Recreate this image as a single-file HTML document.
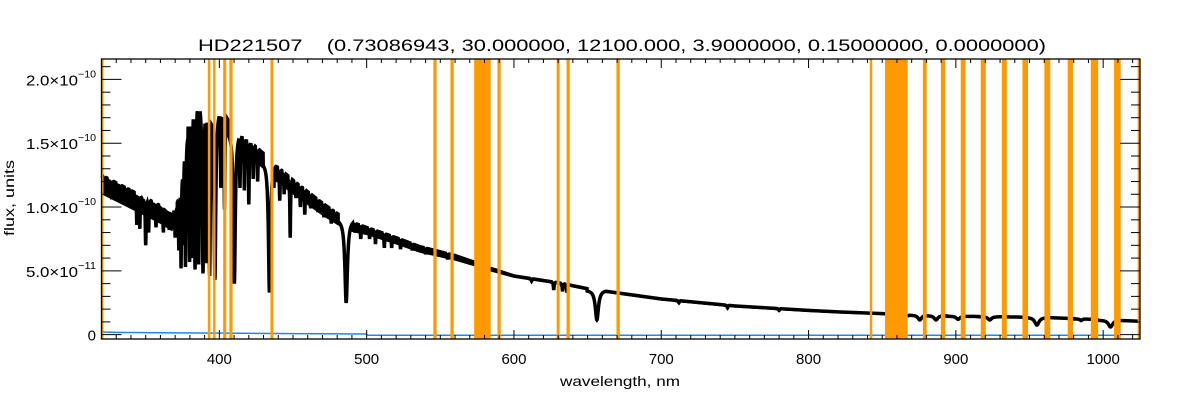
<!DOCTYPE html>
<html><head><meta charset="utf-8">
<style>
html,body{margin:0;padding:0;background:#fff;}
svg{display:block;font-family:"Liberation Sans",sans-serif;}
</style></head>
<body>
<svg id="chart" width="1200" height="400" xmlns="http://www.w3.org/2000/svg">
<rect x="0" y="0" width="1200" height="400" fill="#fff"/>
<text x="198" y="51" font-size="17" textLength="848" lengthAdjust="spacingAndGlyphs" fill="#000">HD221507&#160;&#160;&#160;&#160;(0.73086943, 30.000000, 12100.000, 3.9000000, 0.15000000, 0.0000000)</text>
<g id="plot"></g>
<text x="560" y="386" font-size="14" textLength="120" lengthAdjust="spacingAndGlyphs" fill="#000">wavelength, nm</text>
<text transform="translate(14,236) rotate(-90)" font-size="14" textLength="76" lengthAdjust="spacingAndGlyphs" fill="#000">flux, units</text>
</svg>
<script>
// ---- data (flux in units of 1e-11) ----
const contWl   = [320,330,340,350,360,368,372,376,380,385,390,395,400,405,410,413,420,430,436,440,450,460,470,480,490,500,520,536,560,575,584,600,631,650,700,750,800,821,850,870,900,960,1025];
const contFlux = [12.5,11.9,11.3,10.7,10.1,9.5,10.5,15.0,18.2,18.8,18.5,18.0,17.6,17.0,16.0,15.8,15.2,14.2,13.3,13.1,12.1,11.2,10.3,9.5,8.8,8.4,7.6,6.9,6.2,5.6,5.2,4.6,4.05,3.6,2.8,2.25,1.9,1.78,1.65,1.55,1.45,1.35,1.05];
const noiseWl    = [320,370,380,410,440,480,500,560,600,1025];
const noiseDepth = [1.5,1.4,1.5,1.3,1.2,0.9,0.6,0.4,0.15,0.1];
const lineWl    = [322,325,327,331,333,337,340,344,346,348,350,352,355,357,360,362,364,366,368,370,372.5,374,375.5,377,379.8,381.5,383.5,386,388.9,391,393.4,397,401,403.5,410.2,414,417,420,423,426,434.0,437,441,444,448.1,452,455,458,462,467,471,476,479,486.1,492.2,496,502,506,512,517,523,531,540,555,612,627,633,636,656.3,712,745,780,866,875.5,886.5,901.5,923,955,985,1005];
const lineFlux  = [11.0,11.2,10.6,10.8,10.9,10.4,10.4,8.6,8.3,9.6,7.0,8.0,9.3,8.4,9.0,8.0,8.8,8.2,8.6,7.6,6.6,5.2,7.0,5.3,5.7,6.0,5.1,5.5,4.8,5.6,4.6,4.3,11.5,9.8,4.0,11.5,11.3,10.2,12.2,12.0,3.3,11.5,10.5,11.0,7.6,10.7,10.0,9.4,9.9,9.6,9.2,8.7,8.8,2.5,8.0,7.5,7.5,7.1,6.8,6.8,6.7,6.6,6.3,5.9,4.2,3.5,3.4,3.3,1.15,2.5,2.1,1.9,1.3,1.15,1.15,1.2,1.15,0.75,1.1,0.6];
const lineHalfW = [0.4,0.4,0.5,0.4,0.5,0.5,0.4,0.6,0.5,0.4,0.6,0.5,0.4,0.5,0.4,0.5,0.4,0.5,0.4,0.5,0.5,0.5,0.5,0.6,0.7,0.5,0.8,0.5,1.0,0.5,1.0,1.2,0.5,0.5,1.3,0.5,0.5,0.5,0.5,0.5,1.4,0.5,0.5,0.5,0.5,0.5,0.5,0.5,0.5,0.5,0.5,0.5,0.5,1.8,0.5,0.5,0.5,0.5,0.5,0.5,0.5,0.5,0.5,0.5,0.5,0.5,0.5,0.5,2.2,0.6,0.6,0.6,2,2.5,2.5,2.5,2.5,3,1.5,3];
const gapStart = [575.5, 852];
const gapEnd   = [584.0, 867];
const blueWl   = [320,322,330,360,400,450,500,501,1012];
const blueFlux = [0.35,0.2,0.18,0.15,0.12,0.08,0.05,-0.05,-0.05];
const bandStart = [320,392.2,395.8,402.6,406.8,434.7,545.3,556.9,573.0,588.8,629.0,635.7,669.6,841.6,851.9,877.6,889.8,903.3,916.9,931.2,945.2,960.1,975.9,991.6,1007.4,1023.4];
const bandEnd   = [321.0,393.9,397.4,404.7,409.0,436.7,547.5,559.1,584.2,591.0,631.0,637.9,671.8,843.2,867.3,880.2,892.8,906.6,920.3,934.6,949.0,964.1,979.5,996.6,1011.9,1025];
const xTicks = [400,500,600,700,800,900,1000];
const xTickLabels = ["400","500","600","700","800","900","1000"];
const yTicks = [0,5,10,15,20];
const yTickMant = ["0","5.0","1.0","1.5","2.0"];
const yTickExp  = ["","−11","−10","−10","−10"];

// ---- axes ----
const L=101.5,R=1140,T=59,B=339;
const xMin=320,xMax=1025,yMin=-0.34,yMax=21.6;
const X=w=>L+(w-xMin)/(xMax-xMin)*(R-L);
const Y=f=>B-(f-yMin)/(yMax-yMin)*(B-T);
const NS="http://www.w3.org/2000/svg";
const plot=document.getElementById('plot');
function mk(tag,attrs,parent){const e=document.createElementNS(NS,tag);for(const k in attrs)e.setAttribute(k,attrs[k]);(parent||plot).appendChild(e);return e;}

function interp(xs,ys,w){
  for(let i=0;i<xs.length-1;i++){
    if(w>=xs[i]&&w<=xs[i+1]){const t=(w-xs[i])/(xs[i+1]-xs[i]);return ys[i]+t*(ys[i+1]-ys[i]);}
  }
  return ys[ys.length-1];
}
const cont=w=>interp(contWl,contFlux,w);
function flux(w){
  let f=cont(w);
  for(let i=0;i<lineWl.length;i++){
    const d=Math.abs(w-lineWl[i]);const hw=lineHalfW[i];
    if(d<hw*3){const c=cont(lineWl[i]);const prof=1/(1+(d/hw)*(d/hw)*3);const v=c-(c-lineFlux[i])*prof;if(v<f)f=v;}
  }
  return f;
}
function inGap(w){for(let i=0;i<gapStart.length;i++)if(w>gapStart[i]&&w<gapEnd[i])return true;return false;}

// noise envelope (filled band under continuum)
let segs=[],cur=null;
for(let w=xMin;w<=xMax;w+=0.2){
  if(inGap(w)){cur=null;continue;}
  if(!cur){cur=[];segs.push(cur);}
  cur.push(w);
}
let nd='';
segs.forEach(s=>{
  s.forEach((w,i)=>{nd+=(i?'L':'M')+X(w).toFixed(2)+' '+Y(flux(w)).toFixed(2);});
  for(let i=s.length-1;i>=0;i--){const w=s[i];nd+='L'+X(w).toFixed(2)+' '+Y(Math.min(flux(w),cont(w)-interp(noiseWl,noiseDepth,w))).toFixed(2);}
  nd+='Z';
});
const env=mk('path',{d:nd,fill:'#000',stroke:'none'});



// spectrum
let d='',pen=false;
for(let w=xMin;w<=xMax;w+=0.1){
  if(inGap(w)){pen=false;continue;}
  d+=(pen?'L':'M')+X(w).toFixed(2)+' '+Y(flux(w)).toFixed(2);pen=true;
}
const spec=mk('path',{d:d,fill:'none',stroke:'#000','stroke-width':3.5,'stroke-linejoin':'miter'});



// blue line
let bd='';
for(let i=0;i<blueWl.length;i++)bd+=(i?'L':'M')+X(blueWl[i]).toFixed(2)+' '+Y(blueFlux[i]).toFixed(2);
const bl=mk('path',{d:bd,fill:'none',stroke:'#1e88e5','stroke-width':1.5});



// bands
for(let i=0;i<bandStart.length;i++){
  const x0=X(bandStart[i]),x1=X(bandEnd[i]);
  const r=mk('rect',{x:x0,y:T,width:Math.max(2,x1-x0),height:B-T,fill:'#ff9900'});
  
  
}

// frame
const fr=mk('rect',{x:L,y:T,width:R-L,height:B-T,fill:'none',stroke:'#000','stroke-width':1.3});



// x ticks
for(let w=330;w<=1020;w+=10){
  const maj=(w%100===0);const len=maj?9:4;const x=X(w);
  const t1=mk('line',{x1:x,y1:B,x2:x,y2:B-len,stroke:'#000','stroke-width':1});
  
  
  const t2=mk('line',{x1:x,y1:T,x2:x,y2:T+len,stroke:'#000','stroke-width':1});
  
  
}
for(let i=0;i<xTicks.length;i++){
  const t=mk('text',{x:X(xTicks[i]),y:364,'text-anchor':'middle','font-size':15,fill:'#000'});
  t.textContent=xTickLabels[i];
  
  
}
// y ticks
for(let f=0;f<=21;f+=1){
  const maj=(f%5===0);const len=maj?20:9;const y=Y(f);
  const t1=mk('line',{x1:L,y1:y,x2:L+len,y2:y,stroke:'#000','stroke-width':1});
  
  
  const t2=mk('line',{x1:R,y1:y,x2:R-len,y2:y,stroke:'#000','stroke-width':1});
  
  
}
for(let i=0;i<yTicks.length;i++){
  const y=Y(yTicks[i]);
  let t;
  if(yTickExp[i]){
    t=mk('text',{x:26,y:y+6,'font-size':15,textLength:52,lengthAdjust:'spacingAndGlyphs',fill:'#000'});
    t.textContent=yTickMant[i]+'×10';
    const e=mk('text',{x:78,y:y-2,'font-size':10,textLength:18,lengthAdjust:'spacingAndGlyphs',fill:'#000'});
    e.textContent=yTickExp[i];
    
    
  } else {
    t=mk('text',{x:96,y:y+6,'text-anchor':'end','font-size':15,fill:'#000'});
    t.textContent=yTickMant[i];
  }
  
  
}
</script>
</body></html>
